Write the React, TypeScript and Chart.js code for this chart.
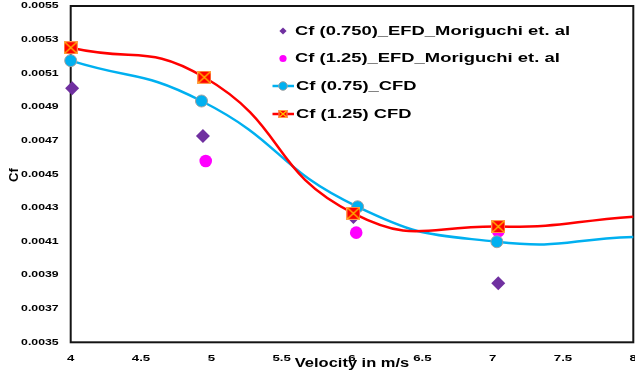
import { useEffect, useRef } from 'react';
import { Chart, registerables } from 'chart.js';

Chart.register(...registerables);

// Skin-friction coefficient vs. velocity
const cfd075Velocity = [4, 4.93, 6.04, 7.03, 8];
const cfd075Cf = [0.005175, 0.004935, 0.004306, 0.004098, 0.004126];
const cfd125Velocity = [4, 4.95, 6.01, 7.04, 8];
const cfd125Cf = [0.005252, 0.005076, 0.004267, 0.004188, 0.004247];
const efd075Velocity = [4.01, 4.94, 6.01, 7.04];
const efd075Cf = [0.005011, 0.004727, 0.004245, 0.003851];
const efd125Velocity = [4.96, 6.03, 7.04];
const efd125Cf = [0.004578, 0.004152, 0.00416];

const xTickLabels = ['4', '4.5', '5', '5.5', '6', '6.5', '7', '7.5', '8'];
const yTickLabels = [
  '0.0035', '0.0037', '0.0039', '0.0041', '0.0043', '0.0045',
  '0.0047', '0.0049', '0.0051', '0.0053', '0.0055',
];
const legendLabels = [
  'Cf (0.750)_EFD_Moriguchi et. al',
  'Cf (1.25)_EFD_Moriguchi et. al',
  'Cf (0.75)_CFD',
  'Cf (1.25) CFD',
];
const xTitle = 'Velocity in m/s';
const yTitle = 'Cf';

const FONT = '"Liberation Sans", Arial, Helvetica, sans-serif';
const RED = '#FF0000';
const BLUE = '#00B0F0';
const PURPLE = '#7030A0';
const MAGENTA = '#FF00FF';

function toPoints(xs: number[], ys: number[]) {
  return xs.map((x, i) => ({ x, y: ys[i] }));
}

// Wide bold text (horizontally stretched glyphs)
function wideText(
  ctx: CanvasRenderingContext2D,
  text: string,
  x: number,
  y: number,
  size: number,
  sx: number,
  align: CanvasTextAlign,
  baseline: CanvasTextBaseline,
) {
  ctx.save();
  ctx.font = `bold ${size}px ${FONT}`;
  ctx.textAlign = align;
  ctx.textBaseline = baseline;
  ctx.fillStyle = '#000';
  ctx.translate(x, y);
  ctx.scale(sx, 1);
  ctx.fillText(text, 0, 0);
  ctx.restore();
}

function drawCrossSquare(ctx: CanvasRenderingContext2D, cx: number, cy: number, w: number, h: number) {
  const x0 = cx - w / 2;
  const y0 = cy - h / 2;
  ctx.save();
  ctx.fillStyle = RED;
  ctx.fillRect(x0, y0, w, h);
  ctx.strokeStyle = '#FF9A50';
  ctx.lineWidth = 1;
  ctx.strokeRect(x0 + 0.5, y0 + 0.5, w - 1, h - 1);
  ctx.strokeStyle = '#FFC000';
  ctx.lineWidth = 1.2;
  ctx.beginPath();
  ctx.moveTo(x0 + 1, y0 + 1);
  ctx.lineTo(x0 + w - 1, y0 + h - 1);
  ctx.moveTo(x0 + w - 1, y0 + 1);
  ctx.lineTo(x0 + 1, y0 + h - 1);
  ctx.stroke();
  ctx.restore();
}

function makeSquareMarker(w: number, h: number) {
  const c = document.createElement('canvas');
  c.width = w;
  c.height = h;
  const ctx = c.getContext('2d')!;
  drawCrossSquare(ctx, w / 2, h / 2, w, h);
  return c;
}

const framePlugin = {
  id: 'plotFrame',
  beforeDatasetsDraw(chart: any) {
    const { ctx, chartArea: a } = chart;
    ctx.save();
    ctx.strokeStyle = '#141414';
    ctx.lineWidth = 2;
    ctx.strokeRect(a.left, a.top, a.right - a.left, a.bottom - a.top);
    ctx.restore();
  },
};

const textPlugin = {
  id: 'axisText',
  afterDraw(chart: any) {
    const { ctx, chartArea: a } = chart;
    const xs = chart.scales.x;
    const ys = chart.scales.y;

    yTickLabels.forEach((t) => {
      wideText(ctx, t, a.left - 12, ys.getPixelForValue(parseFloat(t)), 8.6, 1.43, 'right', 'middle');
    });
    xTickLabels.forEach((t) => {
      wideText(ctx, t, xs.getPixelForValue(parseFloat(t)), a.bottom + 18.3, 9, 1.47, 'center', 'alphabetic');
    });

    wideText(ctx, xTitle, (a.left + a.right) / 2, a.bottom + 25, 12.3, 1.34, 'center', 'alphabetic');

    ctx.save();
    ctx.translate(14.5, (a.top + a.bottom) / 2 + 1);
    ctx.rotate(-Math.PI / 2);
    ctx.font = `bold 13px ${FONT}`;
    ctx.textAlign = 'center';
    ctx.textBaseline = 'middle';
    ctx.fillStyle = '#000';
    ctx.fillText(yTitle, 0, 0);
    ctx.restore();

    // Legend
    const sym = a.left + 212.3;
    const rows = [a.top + 25, a.top + 52.5, a.top + 80, a.top + 108];
    ctx.save();
    ctx.fillStyle = PURPLE;
    ctx.beginPath();
    ctx.moveTo(sym - 3.6, rows[0]);
    ctx.lineTo(sym, rows[0] - 3.6);
    ctx.lineTo(sym + 3.6, rows[0]);
    ctx.lineTo(sym, rows[0] + 3.6);
    ctx.closePath();
    ctx.fill();

    ctx.fillStyle = MAGENTA;
    ctx.beginPath();
    ctx.arc(sym, rows[1], 3.6, 0, Math.PI * 2);
    ctx.fill();

    ctx.strokeStyle = BLUE;
    ctx.lineWidth = 2.5;
    ctx.beginPath();
    ctx.moveTo(sym - 10.5, rows[2]);
    ctx.lineTo(sym + 11, rows[2]);
    ctx.stroke();
    ctx.fillStyle = BLUE;
    ctx.strokeStyle = '#A0A0A0';
    ctx.lineWidth = 1;
    ctx.beginPath();
    ctx.arc(sym, rows[2], 4.3, 0, Math.PI * 2);
    ctx.fill();
    ctx.stroke();

    ctx.strokeStyle = RED;
    ctx.lineWidth = 2.5;
    ctx.beginPath();
    ctx.moveTo(sym - 10.5, rows[3]);
    ctx.lineTo(sym + 11, rows[3]);
    ctx.stroke();
    drawCrossSquare(ctx, sym, rows[3], 9, 8);
    ctx.restore();

    const textX = [sym + 12, sym + 12, sym + 13, sym + 13];
    legendLabels.forEach((t, i) => {
      wideText(ctx, t, textX[i], rows[i], 13.2, 1.395, 'left', 'middle');
    });
  },
};

export default function App() {
  const canvasRef = useRef<HTMLCanvasElement | null>(null);

  useEffect(() => {
    if (!canvasRef.current) return;
    const squareMarker = makeSquareMarker(14, 13);

    const chart = new Chart(canvasRef.current, {
      type: 'scatter',
      data: {
        datasets: [
          {
            label: legendLabels[3],
            data: toPoints(cfd125Velocity, cfd125Cf),
            showLine: true,
            borderColor: RED,
            borderWidth: 2.5,
            tension: 0.5,
            pointStyle: squareMarker,
            pointRadius: [6, 6, 6, 6, 0],
            clip: false,
          },
          {
            label: legendLabels[2],
            data: toPoints(cfd075Velocity, cfd075Cf),
            showLine: true,
            borderColor: BLUE,
            borderWidth: 2.5,
            tension: 0.5,
            pointStyle: 'circle',
            pointRadius: [6, 6, 6, 6, 0],
            pointBackgroundColor: BLUE,
            pointBorderColor: '#A0A0A0',
            pointBorderWidth: 1,
            clip: false,
          },
          {
            label: legendLabels[1],
            data: toPoints(efd125Velocity, efd125Cf),
            showLine: false,
            pointStyle: 'circle',
            pointRadius: 6.3,
            pointBackgroundColor: MAGENTA,
            pointBorderWidth: 0,
            clip: false,
          },
          {
            label: legendLabels[0],
            data: toPoints(efd075Velocity, efd075Cf),
            showLine: false,
            pointStyle: 'rectRot',
            pointRadius: 7,
            pointBackgroundColor: PURPLE,
            pointBorderWidth: 0,
            clip: false,
          },
        ],
      },
      options: {
        animation: false,
        responsive: false,
        devicePixelRatio: 1,
        layout: { autoPadding: false, padding: { left: 70.7, right: 1.7, top: 6, bottom: 29.7 } },
        plugins: {
          legend: { display: false },
          tooltip: { enabled: false },
        },
        scales: {
          x: { type: 'linear', min: 4, max: 8, display: false },
          y: { type: 'linear', min: 0.0035, max: 0.0055, display: false },
        },
      },
      plugins: [framePlugin, textPlugin],
    });

    return () => chart.destroy();
  }, []);

  return (
    <div style={{ position: 'fixed', left: 0, top: 0, width: 635, height: 372, background: '#fff' }}>
      <canvas ref={canvasRef} width={635} height={372} style={{ display: 'block' }} />
    </div>
  );
}
